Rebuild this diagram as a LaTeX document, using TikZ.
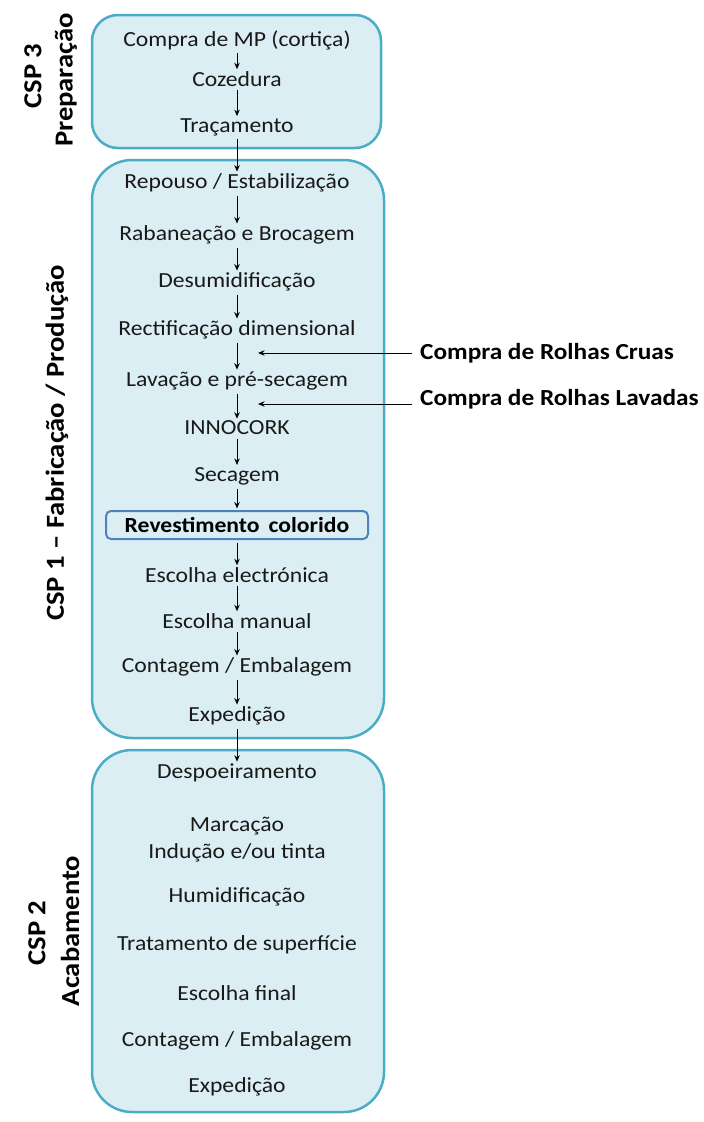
\documentclass[tikz,border=0pt]{standalone}
\usepackage{fontspec}
\setmainfont[FakeStretch=1.1]{Carlito}
\usetikzlibrary{arrows.meta,calc}
\definecolor{panelfill}{HTML}{DBEEF4}
\definecolor{panelline}{HTML}{4BACC6}
\definecolor{hiline}{HTML}{4F81BD}
\tikzset{
  panel/.style={draw=panelline, fill=panelfill, line width=2.5pt},
  stepnode/.style={font=\fontsize{21.5}{23}\selectfont, inner sep=0.5pt, text=black!90},
  sidelabel/.style={font=\fontsize{26}{28}\selectfont\bfseries, rotate=90, inner sep=0pt},
  extlabel/.style={font=\fontsize{23}{25}\selectfont\bfseries, anchor=west, inner sep=0pt},
  flow/.style={-{Stealth[length=6.5pt,width=5.5pt]}, line width=1pt, black, shorten <=3pt, shorten >=1.5pt},
  feed/.style={-{Stealth[length=6.5pt,width=5.5pt]}, line width=1pt, black},
  hibox/.style={draw=hiline, line width=2pt, rounded corners=5pt, fill=panelfill, minimum width=262, minimum height=28, font=\fontsize{21.5}{23}\selectfont\bfseries, inner sep=0.5pt}
}
\begin{document}
\begin{tikzpicture}[x=1pt,y=-1pt]
\useasboundingbox (0,0) rectangle (704,1122);
% panels
\draw[panel, rounded corners=26pt] (92,15) rectangle (381,148);
\draw[panel, rounded corners=40pt] (92,160) rectangle (384,738);
\draw[panel, rounded corners=40pt] (92,750) rectangle (384,1112);
% side labels
\node[sidelabel] (l3a) at (33,76) {CSP 3};
\node[sidelabel] (l3b) at (66,80) {Preparação};
\node[sidelabel] (l1) at (57,443) {CSP 1 – Fabricação / Produção};
\node[sidelabel] (l2a) at (37,933) {CSP 2};
\node[sidelabel] (l2b) at (70,931) {Acabamento};
% CSP3 steps
\node[stepnode] (s1) at (237,40) {Compra de MP (cortiça)};
\node[stepnode] (s2) at (237,79) {Cozedura};
\node[stepnode] (s3) at (237,127) {Traçamento};
% CSP1 steps
\node[stepnode] (f1) at (237,183) {Repouso / Estabilização};
\node[stepnode] (f2) at (237,235) {Rabaneação e Brocagem};
\node[stepnode] (f3) at (237,282) {Desumidificação};
\node[stepnode] (f4) at (237,330) {Rectificação dimensional};
\node[stepnode] (f5) at (237,381) {Lavação e pré-secagem};
\node[stepnode] (f6) at (237,428) {INNOCORK};
\node[stepnode] (f7) at (237,476) {Secagem};
\node[hibox] (f8) at (237,525) {Revestimento\, colorido};
\node[stepnode] (f9) at (237,575) {Escolha electrónica};
\node[stepnode] (f10) at (237,621) {Escolha manual};
\node[stepnode] (f11) at (237,667) {Contagem / Embalagem};
\node[stepnode] (f12) at (237,716) {Expedição};
% CSP2 steps
\node[stepnode] (a1) at (237,773) {Despoeiramento};
\node[stepnode] (a2) at (237,826) {Marcação};
\node[stepnode] (a3) at (237,853) {Indução e/ou tinta};
\node[stepnode] (a4) at (237,897) {Humidificação};
\node[stepnode] (a5) at (237,945) {Tratamento de superfície};
\node[stepnode] (a6) at (237,993) {Escolha final};
\node[stepnode] (a7) at (237,1041) {Contagem / Embalagem};
\node[stepnode] (a8) at (237,1087) {Expedição};
% external inputs
\node[extlabel] (e1) at (420,353) {Compra de Rolhas Cruas};
\node[extlabel] (e2) at (420,399) {Compra de Rolhas Lavadas};
\coordinate (c1) at (258,353);
\coordinate (c2) at (258,404);
% flow arrows
\draw[flow] (s1) -- (s2);
\draw[flow] (s2) -- (s3);
\draw[flow] (s3) -- (f1);
\draw[flow] (f1) -- (f2);
\draw[flow] (f2) -- (f3);
\draw[flow] (f3) -- (f4);
\draw[flow] (f4) -- (f5);
\draw[flow] (f5) -- (f6);
\draw[flow] (f6) -- (f7);
\draw[flow] (f7) -- (f8);
\draw[flow] (f8) -- (f9);
\draw[flow] (f9) -- (f10);
\draw[flow] (f10) -- (f11);
\draw[flow] (f11) -- (f12);
\draw[flow] (f12) -- (a1);
\draw[feed] (e1.west) ++(-8,0) -- (c1);
\draw[feed] (e2.west) ++(-8,5) -- (c2);
\end{tikzpicture}
\end{document}
